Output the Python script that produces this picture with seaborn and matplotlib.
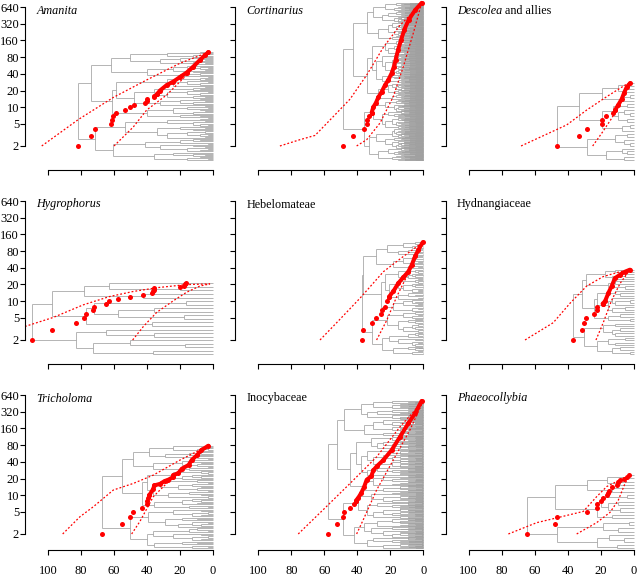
import numpy as np
import matplotlib
matplotlib.use("Agg")
import matplotlib.pyplot as plt
from matplotlib.collections import LineCollection
from matplotlib.ticker import NullLocator
import seaborn as sns

# ---------------- data ----------------
# ages in Myr before present, counts = number of lineages
amanita_dot_age = [81.7, 73.9, 71.7, 61.6, 61.5, 60.8, 58.9, 53.1, 50.4, 47.7, 41.4, 40.2, 40.1, 35.9, 35.5, 34.1]
amanita_dot_n = [2, 3, 4, 5, 6, 7, 8, 9, 10, 11, 12, 13, 14, 15, 16, 17]
amanita_band_age = [34.1, 32.1, 28.1, 24.0, 20.0, 16.0, 11.9, 7.9, 4.8, 2.8]
amanita_band_n = [17, 20, 25, 29, 35, 42, 54, 71, 87, 98]
amanita_up_age = [103.8, 81.6, 60.4, 40.2, 20.0, 2.8]
amanita_up_n = [2, 6.0, 15, 31, 62, 98]
amanita_lo_age = [60.0, 48.3, 40.2, 28.1, 16.0, 2.8]
amanita_lo_n = [2, 4.4, 8.9, 16.6, 38, 98]

cort_dot_age = [48.5, 42.4, 36.1, 34.1, 34.0, 32.7, 31.3]
cort_dot_n = [2, 3, 4, 5, 6, 7, 8]
cort_band_age = [31.3, 30.3, 28.7, 27.3, 25.2, 23.2, 21.2, 19.2, 17.8, 16.8, 15.3, 13.5, 11.5, 8.8, 5.0, 1.0]
cort_band_n = [8, 10, 12, 15, 19, 25, 31, 41, 54, 71, 107, 162, 250, 380, 560, 760]
cort_up_age = [86.9, 74.7, 65.6, 54.5, 44.4, 34.3, 24.2, 14.1, 6.1, 1.0]
cort_up_n = [2, 2.6, 3.1, 6.8, 14, 38, 120, 300, 520, 760]
cort_lo_age = [40.4, 34.3, 26.2, 18.2, 12.1, 6.1, 1.0]
cort_lo_n = [2, 2.6, 5.2, 15.5, 54, 214, 760]

desc_dot_age = [46.4, 32.9, 28.0, 19.3, 19.0, 16.9, 12.7, 11.1]
desc_dot_n = [2, 3, 4, 5, 6, 7, 8, 9]
desc_band_age = [11.1, 9.3, 7.2, 5.8, 4.2, 2.2]
desc_band_n = [9, 11, 14, 18, 23, 27]
desc_up_age = [68.2, 40.5, 28.4, 16.3, 5.2, 2.2]
desc_up_n = [2, 4.8, 8.9, 15.5, 25, 27]
desc_lo_age = [24.8, 19.3, 13.3, 7.2, 2.2]
desc_lo_n = [2, 3.4, 6.3, 13.5, 27]

hygro_dot_age = [109.5, 97.4, 82.8, 78.0, 76.8, 72.9, 71.9, 64.6, 63.0, 57.8, 50.1, 42.6, 37.2, 36.3, 35.9, 35.6, 19.8, 17.3, 16.7, 16.3]
hygro_dot_n = [2, 3, 4, 5, 6, 7, 8, 9, 10, 11, 12, 13, 14, 15, 16, 17, 18, 19, 20, 21]
hygro_band_age = []
hygro_band_n = []
hygro_up_age = [114.0, 96.8, 78.6, 62.8, 48.7, 34.1, 16.3, 1.8]
hygro_up_n = [3.5, 5.1, 8.6, 12.1, 14.9, 17.5, 19.9, 20.5]
hygro_lo_age = [48.7, 42.2, 34.1, 24.0, 16.0, 7.9, 1.8]
hygro_lo_n = [2, 3.5, 6.3, 10.2, 14.5, 18.8, 20.5]

hebel_dot_age = [37.3, 36.4, 31.3, 28.9, 25.6, 24.8, 23.2, 22.2, 20.8]
hebel_dot_n = [2, 3, 4, 5, 6, 7, 8, 10, 12]
hebel_band_age = [20.8, 18.2, 15.2, 12.1, 9.1, 7.0, 5.0, 3.0, 0.4]
hebel_band_n = [12, 15, 21, 27, 34, 45, 64, 84, 115]
hebel_up_age = [62.6, 52.5, 38.4, 24.2, 12.1, 0.4]
hebel_up_n = [2, 4.1, 11.3, 34, 64, 115]
hebel_lo_age = [28.3, 22.2, 16.1, 8.1, 0.4]
hebel_lo_n = [2, 4.5, 12.1, 36.5, 115]

hydn_dot_age = [36.5, 31.1, 30.1, 28.9, 23.8, 22.4, 22.0, 18.8]
hydn_dot_n = [2, 3, 4, 5, 6, 7, 8, 9]
hydn_band_age = [18.8, 17.3, 15.3, 13.2, 11.3, 8.2, 5.2, 2.2]
hydn_band_n = [9, 10, 14, 19, 26, 30, 34, 37]
hydn_up_age = [65.8, 48.7, 38.5, 28.4, 18.4, 8.2, 2.2]
hydn_up_n = [2, 4.1, 9.2, 18.8, 27.8, 34, 37]
hydn_lo_age = [22.8, 18.4, 13.3, 8.2, 2.2]
hydn_lo_n = [2, 4.1, 10.4, 20.9, 37]

trich_dot_age = [67.1, 55.4, 50.5, 48.3, 43.2, 40.0, 40.0, 39.2, 38.6]
trich_dot_n = [2, 3, 4, 5, 6, 7, 8, 9, 10]
trich_band_age = [38.6, 36.2, 35.6, 32.1, 29.3, 27.1, 24.4, 24.0, 21.0, 18.9, 14.8, 12.9, 9.9, 7.0, 2.8]
trich_band_n = [10, 13, 15, 16, 18, 19, 21, 23, 25, 30, 35, 43, 52, 65, 78]
trich_up_age = [91.1, 80.6, 72.5, 60.4, 48.3, 36.2, 20.0, 2.8]
trich_up_n = [2, 4.1, 6.2, 12.4, 16.3, 23, 43, 78]
trich_lo_age = [49.3, 44.2, 36.2, 28.1, 16.0, 2.8]
trich_lo_n = [2, 3.4, 9.4, 16.3, 33, 78]

inoc_dot_age = [57.6, 52.2, 48.5, 48.3, 44.3, 42.2, 40.8]
inoc_dot_n = [2, 3, 4, 5, 6, 7, 8]
inoc_band_age = [40.8, 39.4, 37.6, 35.9, 34.3, 31.5, 30.3, 28.3, 24.2, 19.2, 14.1, 9.1, 5.0, 1.0]
inoc_band_n = [8, 9, 11, 14, 19, 22, 28, 33, 43, 65, 113, 197, 299, 500]
inoc_up_age = [75.8, 60.6, 44.4, 28.3, 14.1, 0.0]
inoc_up_n = [2, 5.5, 16.3, 49, 171, 500]
inoc_lo_age = [40.4, 36.4, 28.3, 18.2, 8.1, 0.0]
inoc_lo_n = [2, 3.6, 12.4, 43, 150, 500]

phaeo_dot_age = [64.4, 47.4, 46.2, 28.0, 22.4, 22.0, 19.9, 18.3, 16.3, 15.3, 14.7, 13.3, 9.9, 9.3, 8.2, 5.8, 4.2, 2.6]
phaeo_dot_n = [2, 3, 4, 5, 6, 7, 8, 9, 10, 11, 12, 14, 15, 17, 19, 20, 21, 23]
phaeo_band_age = []
phaeo_band_n = []
phaeo_up_age = [75.9, 58.7, 46.6, 30.5, 22.4, 16.3, 8.2, 2.6]
phaeo_up_n = [2, 3.2, 3.9, 5.1, 9.4, 14.3, 18.9, 22.6]
phaeo_lo_age = [34.5, 22.4, 14.3, 9.3, 5.2, 2.6]
phaeo_lo_n = [2, 3.2, 4.9, 8.1, 16.3, 22.6]

x_ticks = [100, 80, 60, 40, 20, 0]
y_ticks = [2, 5, 10, 20, 40, 80, 160, 320, 640]

panels = [
    (("Amanita", True),), (("Cortinarius", True),), (("Descolea", True), (" and allies", False)),
    (("Hygrophorus", True),), (("Hebelomateae", False),), (("Hydnangiaceae", False),),
    (("Tricholoma", True),), (("Inocybaceae", False),), (("Phaeocollybia", True),),
]
series = [
    (amanita_dot_age, amanita_dot_n, amanita_band_age, amanita_band_n, amanita_up_age, amanita_up_n, amanita_lo_age, amanita_lo_n),
    (cort_dot_age, cort_dot_n, cort_band_age, cort_band_n, cort_up_age, cort_up_n, cort_lo_age, cort_lo_n),
    (desc_dot_age, desc_dot_n, desc_band_age, desc_band_n, desc_up_age, desc_up_n, desc_lo_age, desc_lo_n),
    (hygro_dot_age, hygro_dot_n, hygro_band_age, hygro_band_n, hygro_up_age, hygro_up_n, hygro_lo_age, hygro_lo_n),
    (hebel_dot_age, hebel_dot_n, hebel_band_age, hebel_band_n, hebel_up_age, hebel_up_n, hebel_lo_age, hebel_lo_n),
    (hydn_dot_age, hydn_dot_n, hydn_band_age, hydn_band_n, hydn_up_age, hydn_up_n, hydn_lo_age, hydn_lo_n),
    (trich_dot_age, trich_dot_n, trich_band_age, trich_band_n, trich_up_age, trich_up_n, trich_lo_age, trich_lo_n),
    (inoc_dot_age, inoc_dot_n, inoc_band_age, inoc_band_n, inoc_up_age, inoc_up_n, inoc_lo_age, inoc_lo_n),
    (phaeo_dot_age, phaeo_dot_n, phaeo_band_age, phaeo_band_n, phaeo_up_age, phaeo_up_n, phaeo_lo_age, phaeo_lo_n),
]

# ---------------- tree layout from the branching events ----------------
PHI = 0.6180339887498949


class Node:
    __slots__ = ("age", "kids", "u")

    def __init__(self):
        self.age = None
        self.kids = []
        self.u = 0.0


def tree_segments(ages, counts, y_low=1.1):
    root = Node()
    root.age = ages[0]
    allnodes = [root]
    a, b = Node(), Node()
    root.kids = [a, b]
    allnodes += [a, b]
    lin = [a, b]
    k = 0
    for age, c in zip(ages[1:], counts[1:]):
        while len(lin) < int(round(c)):
            k += 1
            idx = int(((k * PHI) % 1.0) * len(lin))
            nd = lin[idx]
            nd.age = age
            c1, c2 = Node(), Node()
            nd.kids = [c1, c2]
            allnodes += [c1, c2]
            lin[idx:idx + 1] = [c1, c2]
    n = len(lin)
    lo, hi = np.log(y_low), np.log(n)
    for i, t in enumerate(lin):
        t.age = 0.0
        t.u = lo + i * (hi - lo) / (n - 1)
    for nd in reversed(allnodes):
        if nd.kids:
            nd.u = 0.5 * (nd.kids[0].u + nd.kids[-1].u)
    segs = []
    for nd in allnodes:
        if nd.kids:
            segs.append([(nd.age, np.exp(nd.kids[0].u)), (nd.age, np.exp(nd.kids[-1].u))])
            for kd in nd.kids:
                y = np.exp(kd.u)
                segs.append([(nd.age, y), (kd.age, y)])
    return segs


# ---------------- figure ----------------
sns.set_style("ticks")
plt.rcParams["font.family"] = ["Liberation Serif", "DejaVu Serif"]
plt.rcParams["axes.linewidth"] = 0.8

W, H = 638, 576
fig = plt.figure(figsize=(W / 100, H / 100), dpi=100)
fig.patch.set_facecolor("white")

PX_PER_YR = 1.65
PX_PER_DOUBLE = 16.7
axis_bottom = [170.0, 363.5, 550.0]
RED = "#ff0000"
GRAY = "#a0a0a0"

for i in range(9):
    r, c = divmod(i, 3)
    x100 = 48 + 210.3 * c
    left_px = x100 - 23
    width_px = 195
    top_px = 194 * r
    bot_px = axis_bottom[r]
    y640 = 7 + 194 * r
    ax = fig.add_axes([left_px / W, 1 - bot_px / H, width_px / W, (bot_px - top_px) / H])
    ax.set_facecolor("white")
    ax.set_yscale("log")

    dot_age, dot_n, band_age, band_n, up_age, up_n, lo_age, lo_n = series[i]

    # tree
    ev_age = list(dot_age) + list(band_age)
    ev_n = list(dot_n) + list(band_n)
    segs = tree_segments(ev_age, ev_n)
    ax.add_collection(LineCollection(segs, colors=GRAY, linewidths=0.55, zorder=1))

    # dotted envelopes
    for xs, ys in ((up_age, up_n), (lo_age, lo_n)):
        sns.lineplot(x=xs, y=ys, sort=False, estimator=None, color=RED, lw=0.9,
                     linestyle=(0, (1.5, 1.6)), ax=ax, zorder=2)
    # dense band of LTT points
    if len(band_age):
        sns.lineplot(x=band_age, y=band_n, sort=False, estimator=None, color=RED, lw=2.9,
                     solid_capstyle="round", solid_joinstyle="round", ax=ax, zorder=3)
        sns.scatterplot(x=band_age, y=band_n, color=RED, s=13, linewidth=0, ax=ax, zorder=4, legend=False)
    sns.scatterplot(x=dot_age, y=dot_n, color=RED, s=13, linewidth=0, ax=ax, zorder=4, legend=False)

    # scales / axes
    ax.set_xlim(100 + 23 / PX_PER_YR, -7 / PX_PER_YR)
    ax.set_ylim(640 / 2 ** ((bot_px - y640) / PX_PER_DOUBLE), 640 * 2 ** ((y640 - top_px) / PX_PER_DOUBLE))
    ax.set_xlabel("")
    ax.set_ylabel("")
    ax.spines["top"].set_visible(False)
    ax.spines["right"].set_visible(False)
    ax.spines["left"].set_bounds(2, 640)
    ax.spines["bottom"].set_bounds(0, 100)
    ax.spines["left"].set_color("black")
    ax.spines["bottom"].set_color("black")
    ax.set_xticks(x_ticks)
    ax.set_xticklabels([str(t) for t in x_ticks] if r == 2 else [""] * len(x_ticks))
    ax.set_yticks(y_ticks)
    ax.set_yticklabels([str(t) for t in y_ticks] if c == 0 else [""] * len(y_ticks))
    ax.yaxis.set_minor_locator(NullLocator())
    ax.xaxis.set_minor_locator(NullLocator())
    ax.tick_params(axis="both", direction="out", length=3.3, width=0.8, color="black",
                   labelcolor="black", labelsize=9)
    ax.tick_params(axis="y", pad=1)
    ax.tick_params(axis="x", pad=7.5)

    # title
    parts = panels[i]
    tx = (left_px + 11.5) / W
    ty = 1 - (16.5 + 194 * r) / H
    t = fig.text(tx, ty, parts[0][0], fontsize=8.7, style="italic" if parts[0][1] else "normal",
                 ha="left", va="bottom", color="black")
    for txt, it in parts[1:]:
        ax.annotate(txt, xy=(1, 0), xycoords=t, fontsize=8.7,
                    style="italic" if it else "normal", ha="left", va="bottom",
                    color="black", annotation_clip=False)

fig.savefig("out.png", dpi=100, facecolor="white")
